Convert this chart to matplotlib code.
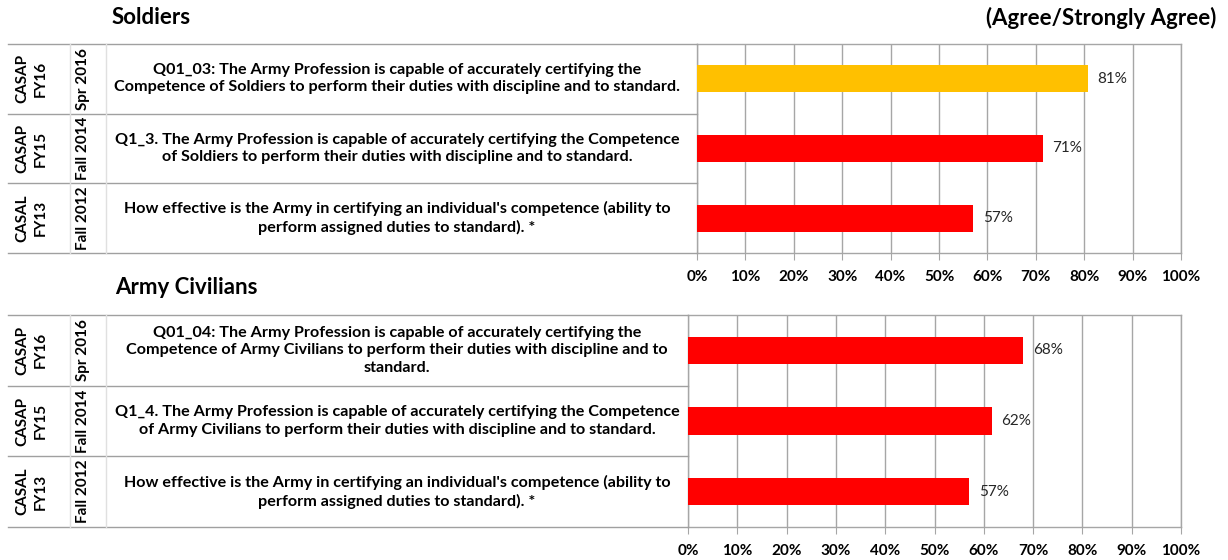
import matplotlib
matplotlib.use("Agg")
import matplotlib.pyplot as plt
from matplotlib.lines import Line2D

plt.rcParams['font.family'] = ['Lato', 'DejaVu Sans']

W, H = 1228, 560

# data, listed bottom row first
surveys = ["CASAL\nFY13", "CASAP\nFY15", "CASAP\nFY16"]
periods = ["Fall 2012", "Fall 2014", "Spr 2016"]

soldier_questions = [
    "How effective is the Army in certifying an individual's competence (ability to\nperform assigned duties to standard). *",
    "Q1_3. The Army Profession is capable of accurately certifying the Competence\nof Soldiers to perform their duties with discipline and to standard.",
    "Q01_03: The Army Profession is capable of accurately certifying the\nCompetence of Soldiers to perform their duties with discipline and to standard.",
]
soldier_values = [57.1, 71.4, 80.7]
soldier_colors = ["#FF0000", "#FF0000", "#FFC000"]

civilian_questions = [
    "How effective is the Army in certifying an individual's competence (ability to\nperform assigned duties to standard). *",
    "Q1_4. The Army Profession is capable of accurately certifying the Competence\nof Army Civilians to perform their duties with discipline and to standard.",
    "Q01_04: The Army Profession is capable of accurately certifying the\nCompetence of Army Civilians to perform their duties with discipline and to\nstandard.",
]
civilian_values = [57.0, 61.6, 68.0]
civilian_colors = ["#FF0000", "#FF0000", "#FF0000"]

ticks = [0, 10, 20, 30, 40, 50, 60, 70, 80, 90, 100]
tick_labels = [str(t) + "%" for t in ticks]

GRID = "#A6A6A6"
LINE = "#A0A0A0"
FAINT = "#E0E0E0"

fig = plt.figure(figsize=(W / 100, H / 100), dpi=100)


def fx(px):
    return px / W


def fy(py):
    return 1 - py / H


def panel(left, right, top, bottom, questions, values, colors):
    ax = fig.add_axes([fx(left), fy(bottom), fx(right - left), (bottom - top) / H])
    ax.barh(range(3), values, height=0.39, color=colors, zorder=3)
    ax.set_xlim(0, 100)
    ax.set_ylim(-0.5, 2.5)
    ax.set_xticks(ticks)
    ax.set_xticklabels(tick_labels, fontsize=11, fontweight="bold")
    ax.set_yticks([])
    ax.tick_params(axis="x", length=5, color=GRID, pad=7)
    ax.grid(axis="x", color=GRID, linewidth=1, zorder=0)
    for s in ax.spines.values():
        s.set_color(GRID)
        s.set_linewidth(1)

    for i in range(3):
        v = values[i]
        ax.text(v + 2, i, "%d%%" % round(v), va="center", ha="left",
                fontsize=11, color="#262626", zorder=4)

    # left table
    row_h = (bottom - top) / 3
    for k in range(4):
        y = top + k * row_h
        fig.add_artist(Line2D([fx(8), fx(left)], [fy(y), fy(y)], color=LINE, linewidth=1))
    for xv in [70, 106]:
        fig.add_artist(Line2D([fx(xv), fx(xv)], [fy(top), fy(bottom)], color=FAINT, linewidth=1))

    for i in range(3):
        yc = bottom - (i + 0.5) * row_h
        fig.text(fx(32), fy(yc), surveys[i], rotation=90, ha="center", va="center",
                 fontsize=11, fontweight="bold", linespacing=1.4)
        fig.text(fx(83), fy(yc), periods[i], rotation=90, ha="center", va="center",
                 fontsize=11, fontweight="bold")
        fig.text(fx(397), fy(yc), questions[i], ha="center", va="center",
                 fontsize=11.6, fontweight="bold", linespacing=1.3)
    return ax


panel(697, 1181, 44, 253, soldier_questions, soldier_values, soldier_colors)
panel(688, 1181, 315, 527, civilian_questions, civilian_values, civilian_colors)

fig.text(fx(112), fy(18), "Soldiers", fontsize=16, fontweight="bold", va="center", ha="left")
fig.text(fx(1216), fy(18), "(Agree/Strongly Agree)", fontsize=16, fontweight="bold",
         va="center", ha="right")
fig.text(fx(115), fy(287), "Army Civilians", fontsize=16, fontweight="bold", va="center", ha="left")

fig.savefig("out.png", dpi=100)
